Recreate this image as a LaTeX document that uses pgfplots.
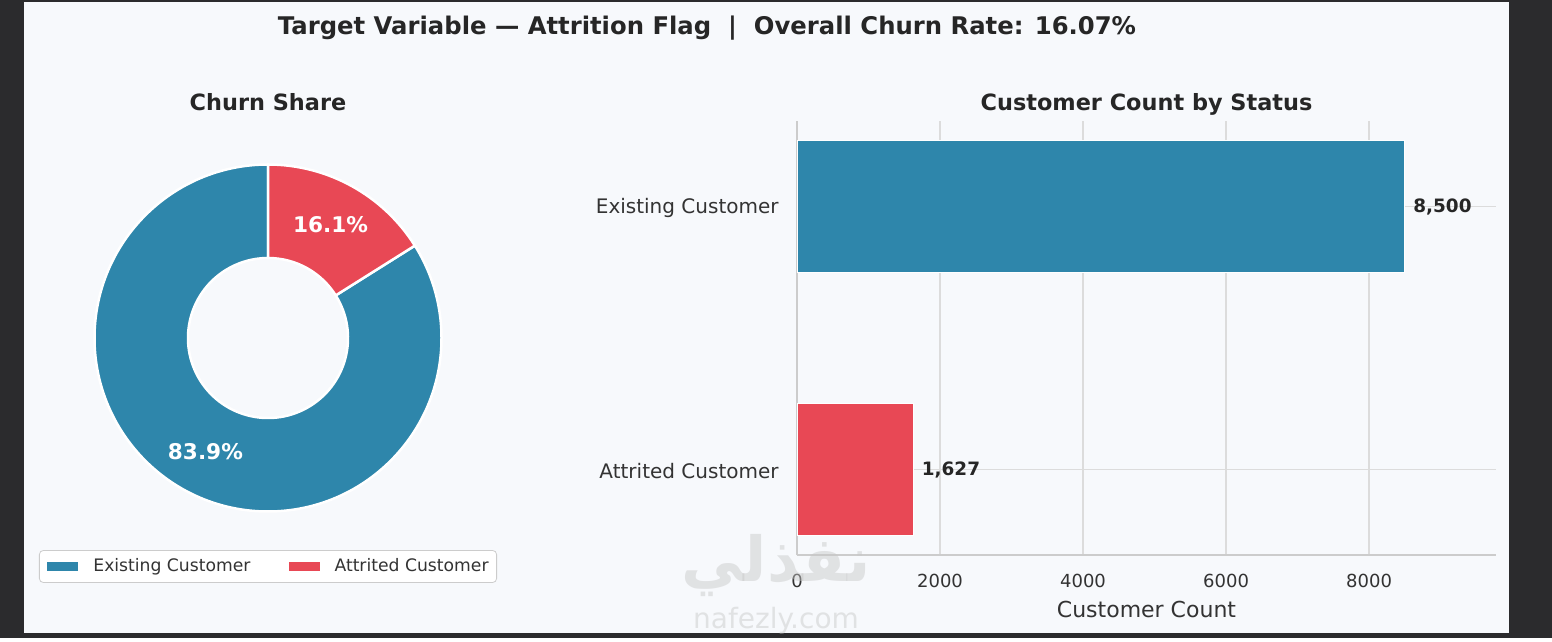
\documentclass[border=0pt]{standalone}
\usepackage{pgfplots}
\pgfplotsset{compat=1.18}
\usepackage{fontspec}
\setmainfont{DejaVu Sans}
\newfontfamily\arabicfont[Script=Arabic]{DejaVu Sans}
\TeXXeTstate=1
\definecolor{outerbg}{HTML}{2B2B2D}
\definecolor{panelbg}{HTML}{F7F9FC}
\definecolor{cblue}{HTML}{2E86AB}
\definecolor{cred}{HTML}{E84855}
\definecolor{txt}{HTML}{262626}
\definecolor{tickc}{HTML}{333333}
\definecolor{gridc}{HTML}{DCDCDC}
\definecolor{spine}{HTML}{CCCCCC}
\newcommand\fs[1]{\fontsize{#1}{#1}\selectfont}
% counts: y position (1 = Existing, 0 = Attrited), count
\pgfplotstableread{
y count
1 8500
}\existingtab
\pgfplotstableread{
y count
0 1627
}\attritedtab
\def\nExist{8500}
\def\nAttr{1627}
\begin{document}
\begin{tikzpicture}
\begin{scope}[x=0.5pt,y=0.5pt]
\fill[outerbg] (0,0) rectangle (1552,638);
\useasboundingbox (0,0) rectangle (1552,638);
\fill[panelbg] (24,5) rectangle (1509,636);
\coordinate (barBL) at (797,83);
\coordinate (pieC) at (268,300);
\node[text=txt, font=\fs{12.15pt}\bfseries] at (707,610) {Target Variable — Attrition Flag\ \ |\ \ Overall Churn Rate: 16.07\%};
\node[text=txt, font=\fs{11.2pt}\bfseries, anchor=base] at (268,527) {Churn Share};
\node[text=txt, font=\fs{11.2pt}\bfseries, anchor=base] at (1146.5,527) {Customer Count by Status};
\end{scope}

% ---------- donut ----------
\begin{axis}[at={(pieC)}, anchor=center, scale only axis,
  width=173.5pt, height=173.5pt, xmin=-1, xmax=1, ymin=-1, ymax=1,
  hide axis, clip=false,
  legend columns=2,
  legend style={at={(0.5,-0.1585)}, anchor=center, draw=spine, fill=white,
    rounded corners=2pt, font=\fs{8.6pt}, text=tickc, inner xsep=4pt, inner ysep=2pt,
    nodes={inner xsep=0pt, inner ysep=2pt},
    /tikz/every odd column/.append style={column sep=7.5pt},
    /tikz/every even column/.append style={column sep=19pt}},
  legend image code/.code={\fill[#1, draw=none, sharp corners] (0pt,-2.25pt) rectangle (15.5pt,2.25pt);},
]
\pgfmathsetmacro\eE{90+360*(\nExist/(\nExist+\nAttr))}
\pgfmathsetmacro\mE{(90+\eE)/2}
\pgfmathsetmacro\mA{(\eE+450)/2}
\fill[cblue, draw=white, line width=1.25pt, line join=round]
  (axis cs:0,0) ++(90:86.75pt) arc[start angle=90, end angle=\eE, radius=86.75pt]
  -- ++(\eE+180:46.75pt) arc[start angle=\eE, end angle=90, radius=40pt] -- cycle;
\fill[cred, draw=white, line width=1.25pt, line join=round]
  (axis cs:0,0) ++(\eE:86.75pt) arc[start angle=\eE, end angle=450, radius=86.75pt]
  -- ++(270:46.75pt) arc[start angle=450, end angle=\eE, radius=40pt] -- cycle;
\path (axis cs:0,0) ++(\mE:64.7pt) node[text=white, font=\fs{10.8pt}\bfseries] {83.9\%};
\path (axis cs:0,0) ++(\mA:64.7pt) node[text=white, font=\fs{10.8pt}\bfseries] {16.1\%};
\addlegendimage{fill=cblue}
\addlegendentry{Existing Customer}
\addlegendimage{fill=cred}
\addlegendentry{Attrited Customer}
\end{axis}

% ---------- bars ----------
\begin{axis}[at={(barBL)}, anchor=south west, scale only axis,
  width=349.5pt, height=217pt,
  xmin=0, xmax=9775, ymin=-0.325, ymax=1.325,
  axis x line*=bottom, axis y line*=left,
  axis line style={spine, line width=0.8pt},
  xtick={0,2000,4000,6000,8000}, ytick={0,1},
  yticklabels={Attrited Customer, Existing Customer},
  major tick length=0pt,
  xmajorgrids, ymajorgrids, grid style={gridc, line width=0.6pt},
  /pgf/number format/1000 sep={}, /pgf/number format/assume math mode=true,
  xticklabel style={font=\fs{9pt}, text=tickc, inner sep=0pt, anchor=north, yshift=-9.5pt},
  yticklabel style={font=\fs{10pt}, text=tickc, inner sep=0pt, anchor=east, xshift=-9pt, yshift=-1pt},
  xlabel={Customer Count},
  xlabel style={font=\fs{11pt}, text=tickc, at={(axis description cs:0.5,-0.1244)}, anchor=center},
  xbar, bar width=0.5,
  nodes near coords={\pgfmathprintnumber[1000 sep={,}, assume math mode=true]{\pgfplotspointmeta}},
  point meta=x,
  nodes near coords style={font=\fs{9.2pt}\bfseries, text=txt, inner sep=0pt, anchor=west, xshift=4pt},
]
\addplot[xbar, bar shift=0pt, fill=cblue, draw=white, line width=0.5pt] table[x=count, y=y] {\existingtab};
\addplot[xbar, bar shift=0pt, fill=cred, draw=white, line width=0.5pt] table[x=count, y=y] {\attritedtab};
\end{axis}

% watermark
\begin{scope}[x=0.5pt,y=0.5pt]
\node[text=gray!45, opacity=0.45, font=\fs{31pt}\bfseries\arabicfont] at (776,72) {\beginR نفذلي\endR};
\node[text=gray!45, opacity=0.45, font=\fs{14pt}] at (776,17) {nafezly.com};
\end{scope}
\end{tikzpicture}
\end{document}
